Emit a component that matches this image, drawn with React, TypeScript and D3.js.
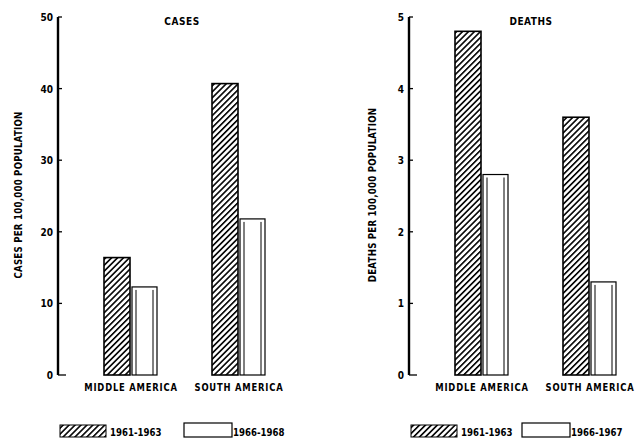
import React from "react";
import * as d3 from "d3";

const categories = ["MIDDLE AMERICA", "SOUTH AMERICA"];
const seriesKeys = ["early", "late"];
const casesEarly = [16.4, 40.7];
const casesLate = [12.3, 21.8];
const deathsEarly = [4.8, 3.6];
const deathsLate = [2.8, 1.3];
const casesTicks = [0, 10, 20, 30, 40, 50];
const deathsTicks = [0, 1, 2, 3, 4, 5];
const casesLegend = ["1961-1963", "1966-1968"];
const deathsLegend = ["1961-1963", "1966-1967"];

const FONT = "'DejaVu Sans', sans-serif";

function T(props: {
  x: number;
  y: number;
  anchor?: string;
  size?: number;
  sx?: number;
  rotate?: number;
  ls?: number;
  children: React.ReactNode;
}) {
  const { x, y, anchor = "start", size = 11, sx = 0.84, rotate = 0, ls = 0 } = props;
  return (
    <g transform={`translate(${x},${y}) rotate(${rotate}) scale(${sx},1)`}>
      <text
        x={0}
        y={0}
        textAnchor={anchor}
        fontFamily={FONT}
        fontWeight="bold"
        fontSize={size}
        letterSpacing={ls}
      >
        {props.children}
      </text>
    </g>
  );
}

type PanelProps = {
  axisX: number;
  title: string;
  titleX: number;
  yLabel: string;
  yLabelX: number;
  early: number[];
  late: number[];
  ticks: number[];
  maxV: number;
  legend: string[];
  legendX: number[];
};

const TOP = 17;
const BASE = 375;

function Panel(p: PanelProps) {
  const y = d3.scaleLinear().domain([0, p.maxV]).range([BASE, TOP]);
  const x = d3
    .scaleBand<string>()
    .domain(categories)
    .range([p.axisX + 19, p.axisX + 235])
    .paddingInner(0.5)
    .paddingOuter(0.25);
  const xs = d3.scaleBand<string>().domain(seriesKeys).range([0, x.bandwidth()]).padding(0);
  const bw = xs.bandwidth();
  return (
    <g>
      <T x={p.titleX} y={25} anchor="middle" size={10.5} sx={0.86} ls={0.6}>
        {p.title}
      </T>
      <T x={p.yLabelX} y={195} anchor="middle" size={10.5} sx={0.82} rotate={-90} ls={0.3}>
        {p.yLabel}
      </T>
      <line x1={p.axisX} x2={p.axisX} y1={TOP} y2={BASE} stroke="#000" strokeWidth={2.4} />
      {p.ticks.map((t) => (
        <g key={t}>
          <line
            x1={p.axisX}
            x2={p.axisX + (t === 0 ? 8 : 4)}
            y1={y(t)}
            y2={y(t)}
            stroke="#000"
            strokeWidth={1.3}
          />
          <T x={p.axisX - 5} y={y(t) + 4} anchor="end" size={11} sx={0.82}>
            {t}
          </T>
        </g>
      ))}
      {categories.map((c, i) => {
        const gx = x(c)!;
        const ex = gx + xs("early")!;
        const lx = gx + xs("late")!;
        const ey = y(p.early[i]);
        const ly = y(p.late[i]);
        return (
          <g key={c}>
            <rect x={ex} y={ey} width={bw - 1} height={BASE - ey} fill="url(#hatch)" stroke="#000" strokeWidth={1.6} />
            <rect x={lx + 1} y={ly} width={bw - 2} height={BASE - ly} fill="#fff" stroke="#000" strokeWidth={1.2} />
            <line x1={lx + 5} x2={lx + 5} y1={ly + 3} y2={BASE} stroke="#000" strokeWidth={1} />
            <line x1={lx + bw - 5} x2={lx + bw - 5} y1={ly + 3} y2={BASE} stroke="#000" strokeWidth={1} />
            <T x={gx + x.bandwidth() / 2} y={391} anchor="middle" size={10.5} sx={0.8} ls={1}>
              {c}
            </T>
          </g>
        );
      })}
      <rect x={p.legendX[0]} y={425} width={46} height={12} fill="url(#hatch)" stroke="#000" strokeWidth={1} />
      <T x={p.legendX[0] + 50} y={436} size={10.5} sx={0.82}>
        {p.legend[0]}
      </T>
      <rect x={p.legendX[1]} y={423} width={48} height={14} fill="#fff" stroke="#000" strokeWidth={1.2} />
      <T x={p.legendX[1] + 49} y={436} size={10.5} sx={0.82}>
        {p.legend[1]}
      </T>
    </g>
  );
}

export default function App() {
  return (
    <svg
      width={635}
      height={438}
      style={{ position: "absolute", left: 0, top: 0, background: "#fff" }}
    >
      <defs>
        <pattern id="hatch" patternUnits="userSpaceOnUse" width={4.2} height={4.2} patternTransform="rotate(45)">
          <rect width={4.2} height={4.2} fill="#fff" />
          <line x1={0} y1={0} x2={0} y2={4.2} stroke="#000" strokeWidth={3.2} />
        </pattern>
      </defs>
      <Panel
        axisX={58}
        title="CASES"
        titleX={182}
        yLabel="CASES PER 100,000 POPULATION"
        yLabelX={22}
        early={casesEarly}
        late={casesLate}
        ticks={casesTicks}
        maxV={50}
        legend={casesLegend}
        legendX={[60, 184]}
      />
      <Panel
        axisX={409}
        title="DEATHS"
        titleX={531}
        yLabel="DEATHS PER 100,000 POPULATION"
        yLabelX={376}
        early={deathsEarly}
        late={deathsLate}
        ticks={deathsTicks}
        maxV={5}
        legend={deathsLegend}
        legendX={[411, 522]}
      />
    </svg>
  );
}
